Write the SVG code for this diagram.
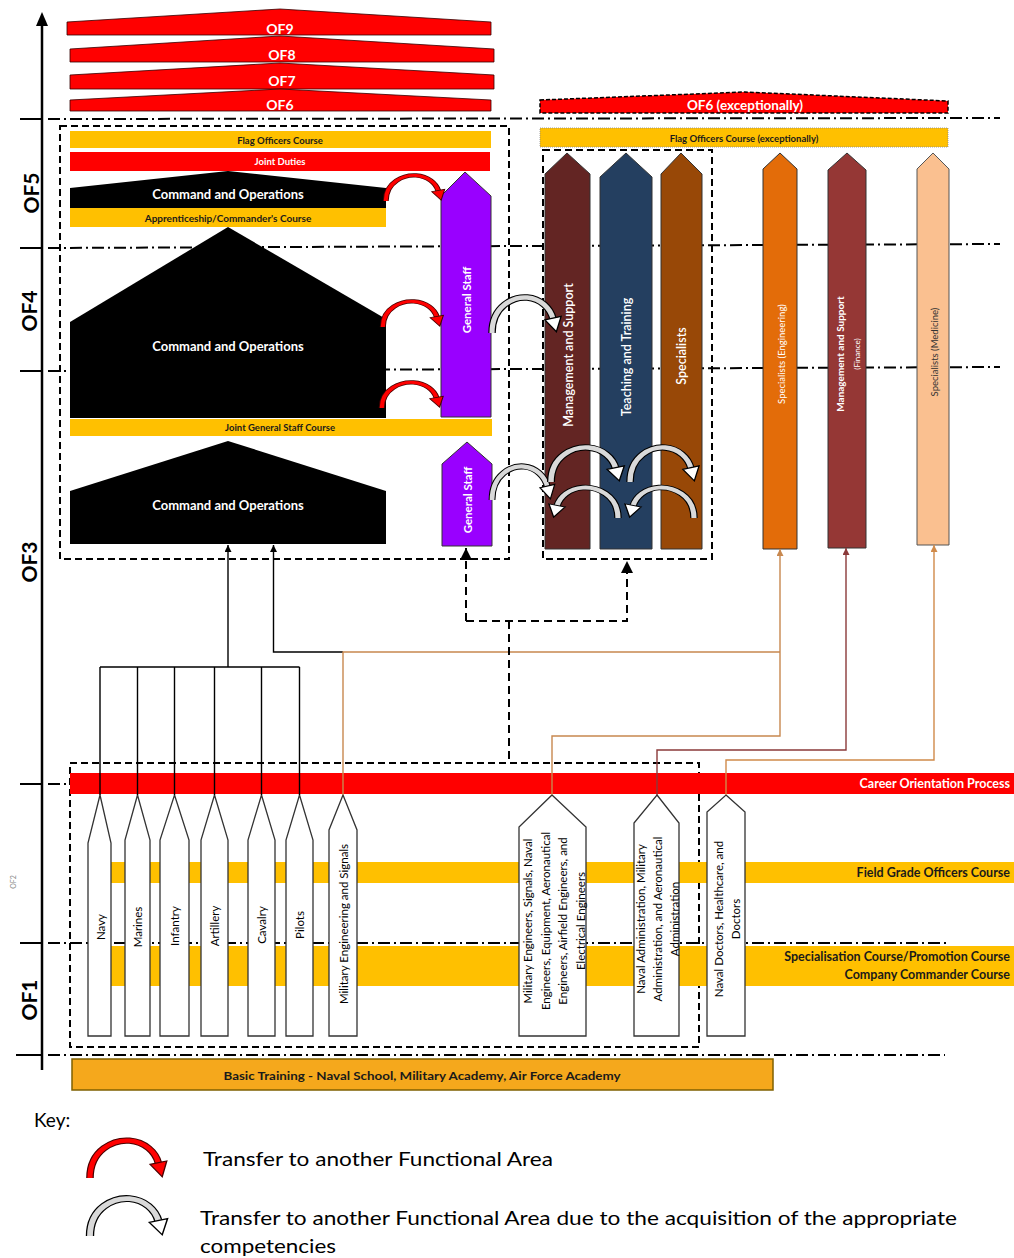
<svg xmlns="http://www.w3.org/2000/svg" width="1014" height="1258" viewBox="0 0 1014 1258">
<defs>
<style>
text{font-family:Lato,"Liberation Sans",sans-serif}
.dd{stroke:#000;stroke-width:2;stroke-dasharray:12 4 2 4;fill:none}
.box{stroke:#000;stroke-width:2;stroke-dasharray:7 4;fill:none}
.dl{stroke:#000;stroke-width:2;stroke-dasharray:8 5;fill:none}
.tick{stroke:#000;stroke-width:2}
.red{fill:#FF0000}
.yel{fill:#FFC000}
.c{text-anchor:middle;dominant-baseline:central}
.wb{fill:#fff;font-weight:bold}
.db{fill:#1a1a1a;font-weight:bold}
.ax{font-size:21px;font-weight:bold;fill:#000}
.br{fill:#fff;stroke:#333;stroke-width:1.3}
.bt{font-size:11.5px;fill:#000}
.ln{fill:none;stroke-width:1.4}
</style>
<marker id="aB" viewBox="0 0 10 10" refX="10" refY="5" markerWidth="7" markerHeight="7" markerUnits="userSpaceOnUse" orient="auto"><path d="M0,0 L10,5 L0,10z" fill="#000"/></marker>
<marker id="aBr" viewBox="0 0 10 10" refX="10" refY="5" markerWidth="7" markerHeight="7" markerUnits="userSpaceOnUse" orient="auto"><path d="M0,0 L10,5 L0,10z" fill="#C8884F"/></marker>
<marker id="aRd" viewBox="0 0 10 10" refX="10" refY="5" markerWidth="7" markerHeight="7" markerUnits="userSpaceOnUse" orient="auto"><path d="M0,0 L10,5 L0,10z" fill="#8B3A3A"/></marker>
<marker id="aTn" viewBox="0 0 10 10" refX="10" refY="5" markerWidth="7" markerHeight="7" markerUnits="userSpaceOnUse" orient="auto"><path d="M0,0 L10,5 L0,10z" fill="#D08A4A"/></marker>
<marker id="aD" viewBox="0 0 10 10" refX="10" refY="5" markerWidth="12" markerHeight="12" markerUnits="userSpaceOnUse" orient="auto"><path d="M0,0 L10,5 L0,10z" fill="#000"/></marker>
<symbol id="arcR" viewBox="0 0 60 34" preserveAspectRatio="none" overflow="visible">
<path d="M4,33 C4,10 20,2 30,3 C40,4 47,12 49,21" fill="none" stroke="#4a0000" stroke-width="5"/>
<path d="M4,33 C4,10 20,2 30,3 C40,4 47,12 49,21" fill="none" stroke="#FF0000" stroke-width="3.4"/>
<polygon points="43.5,22 54.5,19.3 51.5,32" fill="#FF0000" stroke="#4a0000" stroke-width="0.9"/>
</symbol>
<symbol id="arcG" viewBox="0 0 60 34" preserveAspectRatio="none" overflow="visible">
<path d="M4,33 C4,10 20,2 30,3 C40,4 47,12 49,21" fill="none" stroke="#000" stroke-width="5.5"/>
<path d="M4,33 C4,10 20,2 30,3 C40,4 47,12 49,21" fill="none" stroke="#D9D9D9" stroke-width="3.8"/>
<polygon points="43,22 55,19 51.5,32" fill="#fff" stroke="#000" stroke-width="1"/>
</symbol>
</defs>
<rect width="1014" height="1258" fill="#fff"/>

<g id="grid">
<line class="dd" x1="48" y1="119" x2="1000" y2="118"/>
<line class="dd" x1="48" y1="248" x2="1000" y2="244"/>
<line class="dd" x1="48" y1="371" x2="1000" y2="367"/>
<line class="dd" x1="48" y1="784" x2="1014" y2="784"/>
<line class="dd" x1="48" y1="943" x2="950" y2="943"/>
<line class="dd" x1="48" y1="1055" x2="945" y2="1055"/>
</g>

<g id="axis">
<line x1="42" y1="1070" x2="42" y2="24" stroke="#000" stroke-width="2.5"/>
<polygon points="42,12 36,26 48,26" fill="#000"/>
<line class="tick" x1="20" y1="119" x2="42" y2="119"/>
<line class="tick" x1="20" y1="248" x2="42" y2="248"/>
<line class="tick" x1="20" y1="371" x2="42" y2="371"/>
<line class="tick" x1="20" y1="784" x2="42" y2="784"/>
<line class="tick" x1="20" y1="943" x2="42" y2="943"/>
<line class="tick" x1="16" y1="1055" x2="42" y2="1055"/>
<text class="ax c" transform="translate(30,193) rotate(-90)">OF5</text>
<text class="ax c" transform="translate(28,311) rotate(-90)">OF4</text>
<text class="ax c" transform="translate(28,562) rotate(-90)">OF3</text>
<text class="c" transform="translate(13,882) rotate(-90)" font-size="7" fill="#888">OF2</text>
<text class="ax c" transform="translate(28,1000) rotate(-90)">OF1</text>
</g>

<g id="of9"><polygon class="red" points="67,22 280,9 491,22 491,35 67,35" stroke="#300" stroke-width="0.8"/><text class="c wb" x="280" y="28" font-size="14">OF9</text></g>
<g id="of8"><polygon class="red" points="70,49 280,36 494,49 494,62 70,62" stroke="#300" stroke-width="0.8"/><text class="c wb" x="282" y="54" font-size="14">OF8</text></g>
<g id="of7"><polygon class="red" points="70,75 280,63 494,75 494,89 70,89" stroke="#300" stroke-width="0.8"/><text class="c wb" x="282" y="80.5" font-size="14">OF7</text></g>
<g id="of6"><polygon class="red" points="70,100 280,89 491,100 491,111 70,111" stroke="#300" stroke-width="0.8"/><text class="c wb" x="280" y="104" font-size="14">OF6</text></g>
<g id="of6-exc"><polygon class="red" points="540,100 745,92 948,101 948,113 540,113" stroke="#000" stroke-width="1.5" stroke-dasharray="4 2"/><text class="c wb" x="745" y="105" font-size="13.5">OF6 (exceptionally)</text></g>
<g id="flag-exc"><rect class="yel" x="540" y="128" width="408" height="19" stroke="#888" stroke-width="0.8" stroke-dasharray="1 1"/><text class="c db" x="744" y="138" font-size="9.5">Flag Officers Course (exceptionally)</text></g>

<g id="box-upper"><rect class="box" x="60" y="126" width="449" height="433"/></g>
<g id="box-middle"><rect class="box" x="543" y="150" width="169" height="409"/></g>
<g id="box-lower"><rect class="box" x="70" y="763" width="629" height="284"/></g>

<g id="flag"><rect class="yel" x="70" y="131" width="421" height="17"/><text class="c db" x="280" y="140" font-size="9.5">Flag Officers Course</text></g>
<g id="joint-duties"><rect class="red" x="70" y="152" width="420" height="19"/><text class="c wb" x="280" y="161.5" font-size="9.5">Joint Duties</text></g>
<g id="cmd-of5"><polygon points="70,188 228,171 386,188 386,208 70,208" fill="#000"/><text class="c wb" x="228" y="194" font-size="13">Command and Operations</text></g>
<g id="apprentice"><rect class="yel" x="70" y="208" width="316" height="19"/><text class="c db" x="228" y="217.5" font-size="10">Apprenticeship/Commander's Course</text></g>
<g id="cmd-of4"><polygon points="70,322 228,227 386,319 386,418 70,418" fill="#000"/><text class="c wb" x="228" y="346" font-size="13">Command and Operations</text></g>
<g id="jgsc"><rect class="yel" x="70" y="419" width="422" height="17"/><text class="c db" x="280" y="427.5" font-size="9.5">Joint General Staff Course</text></g>
<g id="cmd-of3"><polygon points="70,491 228,441 386,491 386,544 70,544" fill="#000"/><text class="c wb" x="228" y="505" font-size="13">Command and Operations</text></g>
<g id="gs-big"><polygon points="465,172 491,196 491,417 441,417 441,196" fill="#9900FF" stroke="#333" stroke-width="1"/><text class="c wb" transform="translate(466,300) rotate(-90)" font-size="11.5">General Staff</text></g>
<g id="gs-small"><polygon points="467,442 492,464 492,546 442,546 442,464" fill="#9900FF" stroke="#333" stroke-width="1"/><text class="c wb" transform="translate(467,500) rotate(-90)" font-size="11.5">General Staff</text></g>

<g id="mgmt-support"><polygon points="567,153 590,174 590,549 545,549 545,174" fill="#632523" stroke="#333" stroke-width="1"/><text class="c" transform="translate(568,355) rotate(-90)" font-size="12.5" font-weight="600" fill="#fff">Management and Support</text></g>
<g id="teaching"><polygon points="626,153 652,177 652,549 600,549 600,177" fill="#243F60" stroke="#333" stroke-width="1"/><text class="c" transform="translate(626,357) rotate(-90)" font-size="12.5" font-weight="600" fill="#fff">Teaching and Training</text></g>
<g id="specialists"><polygon points="681,153 702,174 702,549 661,549 661,174" fill="#984807" stroke="#333" stroke-width="1"/><text class="c" transform="translate(681,356) rotate(-90)" font-size="12.5" font-weight="600" fill="#fff">Specialists</text></g>
<g id="spec-eng"><polygon points="780,153 797,169 797,549 763,549 763,169" fill="#E36C09" stroke="#333" stroke-width="1"/><text class="c" transform="translate(781,354) rotate(-90)" font-size="9.5" fill="#fff">Specialists (Engineering)</text></g>
<g id="mgmt-finance"><polygon points="847,153 866,170 866,548 828,548 828,170" fill="#953735" stroke="#333" stroke-width="1"/><text class="c" transform="translate(840,354) rotate(-90)" font-size="10" font-weight="bold" fill="#fff">Management and Support</text><text class="c" transform="translate(857,354) rotate(-90)" font-size="8" fill="#fff">(Finance)</text></g>
<g id="spec-med"><polygon points="933,153 949,169 949,545 917,545 917,169" fill="#FAC090" stroke="#555" stroke-width="1"/><text class="c" transform="translate(934,352) rotate(-90)" font-size="9.5" fill="#333">Specialists (Medicine)</text></g>

<g id="career"><rect class="red" x="70" y="773" width="944" height="21"/><text x="1010" y="788" text-anchor="end" class="wb" font-size="12.5">Career Orientation Process</text></g>
<g id="fgoc"><rect class="yel" x="111" y="862" width="903" height="21"/><text x="1010" y="877" text-anchor="end" class="db" font-size="12.5">Field Grade Officers Course</text></g>
<g id="spec-course"><rect class="yel" x="111" y="946" width="903" height="40"/><text x="1010" y="961" text-anchor="end" class="db" font-size="12.5">Specialisation Course/Promotion Course</text><text x="1010" y="979" text-anchor="end" class="db" font-size="12.5">Company Commander Course</text></g>

<g id="navy"><polygon class="br" points="100,795 111,843 111,1036 88,1036 88,843"/><text class="c bt" transform="translate(100,927) rotate(-90)">Navy</text></g>
<g id="marines"><polygon class="br" points="137.5,795 150,840 150,1036 125,1036 125,840"/><text class="c bt" transform="translate(137.5,927) rotate(-90)">Marines</text></g>
<g id="infantry"><polygon class="br" points="174.5,795 189,840 189,1036 160,1036 160,840"/><text class="c bt" transform="translate(174.5,926) rotate(-90)">Infantry</text></g>
<g id="artillery"><polygon class="br" points="214.5,795 228,840 228,1036 201,1036 201,840"/><text class="c bt" transform="translate(214.5,926) rotate(-90)">Artillery</text></g>
<g id="cavalry"><polygon class="br" points="261.5,795 275,840 275,1036 248,1036 248,840"/><text class="c bt" transform="translate(261.5,925) rotate(-90)">Cavalry</text></g>
<g id="pilots"><polygon class="br" points="299.5,795 313,840 313,1036 286,1036 286,840"/><text class="c bt" transform="translate(299.5,925) rotate(-90)">Pilots</text></g>
<g id="mil-eng-signals"><polygon class="br" points="343,795 357,830 357,1036 329,1036 329,830"/><text class="c bt" transform="translate(343,924) rotate(-90)">Military Engineering and Signals</text></g>
<g id="mil-engineers"><polygon class="br" points="552,795 586,827 586,1036 519,1036 519,827"/><text class="c bt" transform="translate(553,921) rotate(-90)"><tspan x="0" y="-26">Military Engineers, Signals, Naval</tspan><tspan x="0" y="-8.5">Engineers, Equipment, Aeronautical</tspan><tspan x="0" y="9">Engineers, Airfield Engineers, and</tspan><tspan x="0" y="26.5">Electrical Engineers</tspan></text></g>
<g id="naval-admin"><polygon class="br" points="657,795 679,823 679,1036 634,1036 634,823"/><text class="c bt" transform="translate(657,919) rotate(-90)"><tspan x="0" y="-17">Naval Administration, Military</tspan><tspan x="0" y="0">Administration, and Aeronautical</tspan><tspan x="0" y="17">Administration</tspan></text></g>
<g id="naval-doctors"><polygon class="br" points="726,795 745,812 745,1036 707,1036 707,812"/><text class="c bt" transform="translate(726.5,919) rotate(-90)"><tspan x="0" y="-8.5">Naval Doctors, Healthcare, and</tspan><tspan x="0" y="8.5">Doctors</tspan></text></g>

<g id="basic"><rect x="72" y="1059" width="701" height="31" fill="#F5A81C" stroke="#7F6000" stroke-width="1.5"/><text class="c db" x="422" y="1075" font-size="11.5" textLength="397" lengthAdjust="spacingAndGlyphs">Basic Training - Naval School, Military Academy, Air Force Academy</text></g>

<g id="connectors">
<path class="ln" stroke="#000" d="M100,795 V667 M137.5,795 V667 M174.5,795 V667 M214.5,795 V667 M261.5,795 V667 M299.5,795 V667 M100,667 H299.5"/>
<path class="ln" stroke="#000" d="M228,667 V545" marker-end="url(#aB)"/>
<path class="ln" stroke="#000" d="M343,652 H273.5 V545" marker-end="url(#aB)"/>
<path class="ln" stroke="#C8884F" d="M343,795 V652 H780"/>
<path class="ln" stroke="#C8884F" d="M552,795 V736 H780 V549" marker-end="url(#aBr)"/>
<path class="ln" stroke="#8B3A3A" d="M657,795 V750 H846 V548" marker-end="url(#aRd)"/>
<path class="ln" stroke="#D08A4A" d="M726,795 V760 H934 V545" marker-end="url(#aTn)"/>
<path class="dl" d="M466,621 V548" marker-end="url(#aD)"/>
<path class="dl" d="M466,621 H627 V561" marker-end="url(#aD)"/>
<path class="dl" d="M509,621 V763"/>
<use href="#arcR" x="381.1" y="172.9" width="70" height="29"/>
<use href="#arcR" x="378" y="298.9" width="72" height="29"/>
<use href="#arcR" x="376.9" y="379.9" width="73" height="29"/>
<use href="#arcG" x="486.6" y="294" width="81.3" height="40.1"/>
<use href="#arcG" x="487.1" y="463.2" width="73.75" height="37.9"/>
<use href="#arcG" x="545.25" y="444.1" width="86.25" height="39"/>
<use href="#arcG" x="624.6" y="444.1" width="81.25" height="39"/>
<use href="#arcG" x="547.6" y="484.5" width="81.25" height="34.6" transform="translate(1171,0) scale(-1,1)"/>
<use href="#arcG" x="623.6" y="484.5" width="81.25" height="34.6" transform="translate(1323,0) scale(-1,1)"/>
</g>

<g id="key">
<text x="34" y="1127" font-size="19" fill="#000">Key:</text>
<use href="#arcR" x="83.9" y="1136.9" width="91.25" height="42.4"/>
<text x="203" y="1166" font-size="19" fill="#000" textLength="350" lengthAdjust="spacingAndGlyphs">Transfer to another Functional Area</text>
<use href="#arcG" x="83.9" y="1194.9" width="91.25" height="42.4"/>
<text x="200" y="1225" font-size="19" fill="#000" textLength="757" lengthAdjust="spacingAndGlyphs">Transfer to another Functional Area due to the acquisition of the appropriate</text>
<text x="200" y="1253" font-size="19" fill="#000" textLength="136" lengthAdjust="spacingAndGlyphs">competencies</text>
</g>
</svg>
